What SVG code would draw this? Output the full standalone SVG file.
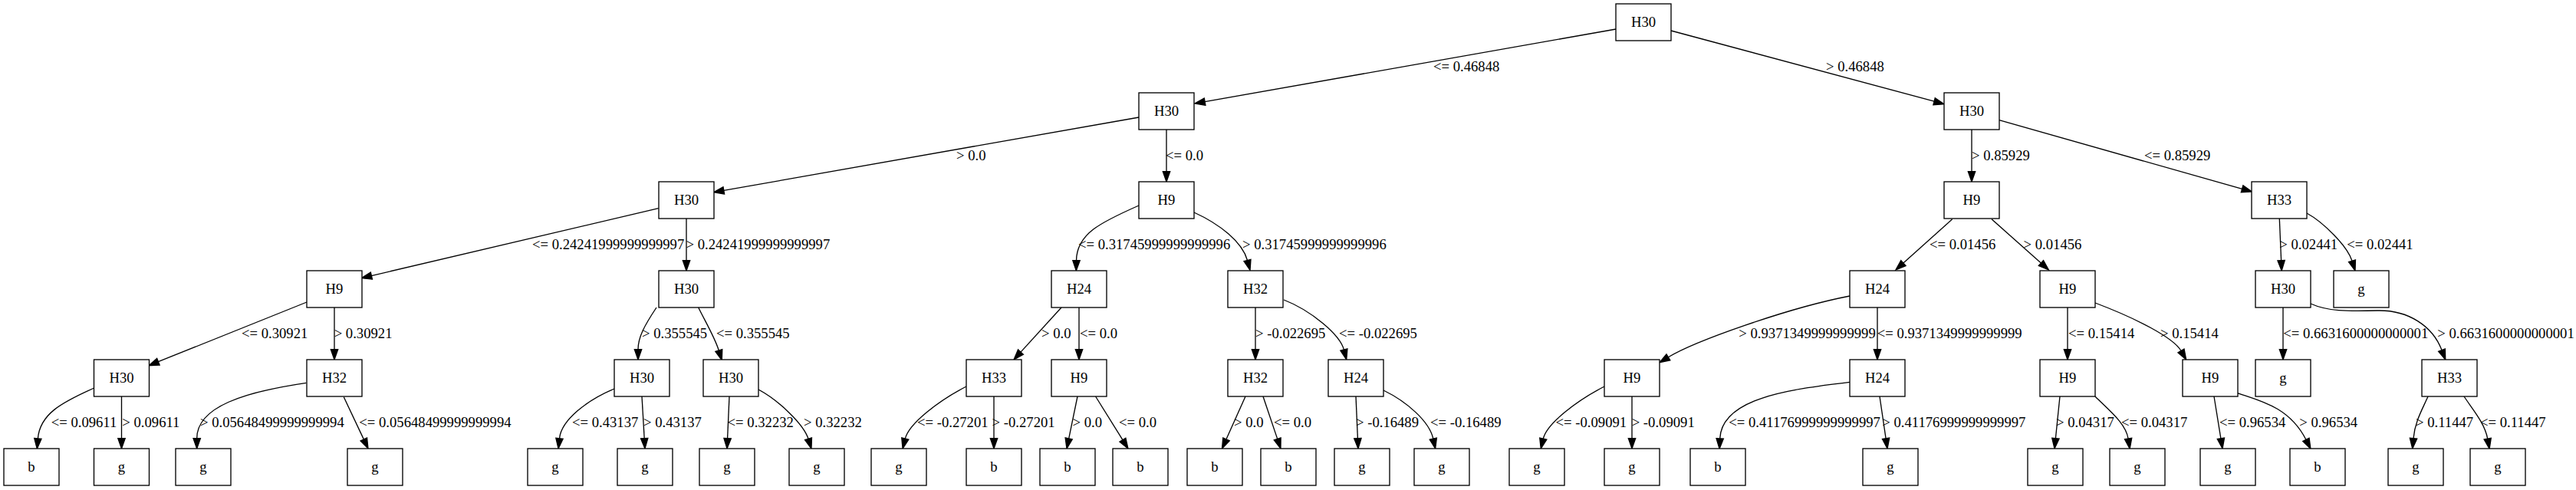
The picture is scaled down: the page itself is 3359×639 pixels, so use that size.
<svg xmlns="http://www.w3.org/2000/svg" width="3359" height="639" viewBox="0 0 3359 639">
<style>
.node rect{fill:#fff;stroke:#000;stroke-width:1.33}
.node text{text-anchor:middle}
text{font-family:"Liberation Serif","Times New Roman",serif;font-size:18.67px;fill:#000}
.edges path{fill:none;stroke:#000;stroke-width:1.33;marker-end:url(#ah)}
</style>
<defs>
<marker id="ah" markerUnits="userSpaceOnUse" markerWidth="13.33" markerHeight="9.33" viewBox="0 0 13.33 9.33" refX="0" refY="4.665" orient="auto" overflow="visible">
<path d="M0,0 L13.33,4.665 L0,9.33 z" fill="#000" stroke="#000" stroke-width="1.33"/>
</marker>
</defs>
<rect width="3359" height="639" fill="#fff"/>
<g class="edges">
<path d="M2107,38 L1571.1,132.7"/>
<path d="M2179,40 L2522.1,132.2"/>
<path d="M1485,153 L943.8,248.4"/>
<path d="M1521,169 L1521,223.7"/>
<path d="M2571,169 L2571,223.7"/>
<path d="M2607,156.7 L2923.6,246.4"/>
<path d="M858.6,271.7 L484.4,359.6"/>
<path d="M895,285 L895,339.7"/>
<path d="M1485,268 C1435,290 1404,305 1403.5,339.7"/>
<path d="M1557,277 C1590,292 1619.9,315.4 1626.5,339.5"/>
<path d="M2545.7,285.7 L2481.9,343.1"/>
<path d="M2597,285.7 L2661.4,343.1"/>
<path d="M2972.3,285 L2974.6,339.7"/>
<path d="M3008,278 C3030,290 3061,321.3 3067,340.3"/>
<path d="M400,394 L206.4,471.7"/>
<path d="M436,401 L436,455.7"/>
<path d="M856,401 C840,425 832,440 832,455.7"/>
<path d="M910.7,401 C920,420 932,440 937.3,457"/>
<path d="M1384,401 L1331,459.1"/>
<path d="M1407,401 L1407,455.7"/>
<path d="M1637,401 L1637,455.7"/>
<path d="M1674,391 C1710,405 1747.4,436.7 1752.4,456.1"/>
<path d="M2412,386 C2330,402 2209.6,445.1 2175.4,465.8"/>
<path d="M2448,401 L2448,455.7"/>
<path d="M2696,401 L2696,455.7"/>
<path d="M2732,395 C2785,415 2834,440.2 2844,457.5"/>
<path d="M2977,401 L2977,455.7"/>
<path d="M3013,396 C3035,406 3060,406 3100,405 C3140,404 3172,425 3184,456.6"/>
<path d="M122.7,506 C80,525 52,540 49.4,571.9"/>
<path d="M158.5,517 L158.5,571.7"/>
<path d="M399.3,499.3 C320,511 256.7,530 256.7,571.7"/>
<path d="M448.3,517.7 L474.3,572.9"/>
<path d="M801,507 C765,522 732,548 729.5,571.7"/>
<path d="M837,517 L840.2,571.7"/>
<path d="M951,517 L948.6,571.7"/>
<path d="M989,508 C1015,522 1048,553 1054,572.3"/>
<path d="M1260,504 C1225,522 1185.3,552 1180.3,572.1"/>
<path d="M1296,517 L1296,571.7"/>
<path d="M1405,517 L1393.7,571.9"/>
<path d="M1428.6,517 L1463.9,573.7"/>
<path d="M1624,517 L1599,572.8"/>
<path d="M1647,517 L1665.7,572.4"/>
<path d="M1768,517 L1770.4,571.7"/>
<path d="M1804,509 C1835,524 1864,550 1868.8,572.1"/>
<path d="M2092,504 C2057,522 2017,552 2012.3,572.1"/>
<path d="M2128,517 L2128,571.7"/>
<path d="M2412,498.3 C2330,508 2245,520 2242.7,571.9"/>
<path d="M2451,517 L2459.1,571.8"/>
<path d="M2686,517 L2680.4,571.7"/>
<path d="M2732,517 C2750,535 2772,552 2775.1,572"/>
<path d="M2887,517 L2895.9,571.8"/>
<path d="M2917,512.3 C2945,522 2985,530 3006.9,573.3"/>
<path d="M3166,517 C3158,535 3149,550 3147,571.7"/>
<path d="M3213,517 C3225,535 3240,552 3243.7,572.1"/>
</g>
<g class="labels">
<text x="1869" y="92.7">&lt;= 0.46848</text>
<text x="2381" y="92.7">&gt; 0.46848</text>
<text x="1247" y="208.7">&gt; 0.0</text>
<text x="1520" y="208.7">&lt;= 0.0</text>
<text x="2571" y="208.7">&gt; 0.85929</text>
<text x="2796" y="208.7">&lt;= 0.85929</text>
<text x="694" y="324.7">&lt;= 0.24241999999999997</text>
<text x="894.5" y="324.7">&gt; 0.24241999999999997</text>
<text x="1406" y="324.7">&lt;= 0.31745999999999996</text>
<text x="1620" y="324.7">&gt; 0.31745999999999996</text>
<text x="2516" y="324.7">&lt;= 0.01456</text>
<text x="2638.6" y="324.7">&gt; 0.01456</text>
<text x="2972.3" y="324.7">&gt; 0.02441</text>
<text x="3060.3" y="324.7">&lt;= 0.02441</text>
<text x="315" y="440.7">&lt;= 0.30921</text>
<text x="435.7" y="440.7">&gt; 0.30921</text>
<text x="837" y="440.7">&gt; 0.355545</text>
<text x="934" y="440.7">&lt;= 0.355545</text>
<text x="1358" y="440.7">&gt; 0.0</text>
<text x="1408" y="440.7">&lt;= 0.0</text>
<text x="1637" y="440.7">&gt; -0.022695</text>
<text x="1746" y="440.7">&lt;= -0.022695</text>
<text x="2267.3" y="440.7">&gt; 0.9371349999999999</text>
<text x="2447.7" y="440.7">&lt;= 0.9371349999999999</text>
<text x="2697" y="440.7">&lt;= 0.15414</text>
<text x="2817" y="440.7">&gt; 0.15414</text>
<text x="2977.3" y="440.7">&lt;= 0.6631600000000001</text>
<text x="3178.3" y="440.7">&gt; 0.6631600000000001</text>
<text x="66.7" y="556.7">&lt;= 0.09611</text>
<text x="159.3" y="556.7">&gt; 0.09611</text>
<text x="261" y="556.7">&gt; 0.05648499999999994</text>
<text x="468.3" y="556.7">&lt;= 0.05648499999999994</text>
<text x="746" y="556.7">&lt;= 0.43137</text>
<text x="839" y="556.7">&gt; 0.43137</text>
<text x="948.6" y="556.7">&lt;= 0.32232</text>
<text x="1048" y="556.7">&gt; 0.32232</text>
<text x="1196" y="556.7">&lt;= -0.27201</text>
<text x="1293.6" y="556.7">&gt; -0.27201</text>
<text x="1398.6" y="556.7">&gt; 0.0</text>
<text x="1459" y="556.7">&lt;= 0.0</text>
<text x="1609" y="556.7">&gt; 0.0</text>
<text x="1661" y="556.7">&lt;= 0.0</text>
<text x="1768" y="556.7">&gt; -0.16489</text>
<text x="1865" y="556.7">&lt;= -0.16489</text>
<text x="2028.6" y="556.7">&lt;= -0.09091</text>
<text x="2127.7" y="556.7">&gt; -0.09091</text>
<text x="2254.3" y="556.7">&lt;= 0.41176999999999997</text>
<text x="2454.3" y="556.7">&gt; 0.41176999999999997</text>
<text x="2681" y="556.7">&gt; 0.04317</text>
<text x="2766" y="556.7">&lt;= 0.04317</text>
<text x="2894" y="556.7">&lt;= 0.96534</text>
<text x="2998.3" y="556.7">&gt; 0.96534</text>
<text x="3150" y="556.7">&gt; 0.11447</text>
<text x="3234" y="556.7">&lt;= 0.11447</text>
</g>
<g id="n0" class="node"><rect x="2107" y="5" width="72" height="48"/><text x="2143" y="34.6">H30</text></g>
<g id="n1" class="node"><rect x="1485" y="121" width="72" height="48"/><text x="1521" y="150.6">H30</text></g>
<g id="n2" class="node"><rect x="2535" y="121" width="72" height="48"/><text x="2571" y="150.6">H30</text></g>
<g id="n3" class="node"><rect x="859" y="237" width="72" height="48"/><text x="895" y="266.6">H30</text></g>
<g id="n4" class="node"><rect x="1485" y="237" width="72" height="48"/><text x="1521" y="266.6">H9</text></g>
<g id="n5" class="node"><rect x="2535" y="237" width="72" height="48"/><text x="2571" y="266.6">H9</text></g>
<g id="n6" class="node"><rect x="2936" y="237" width="72" height="48"/><text x="2972" y="266.6">H33</text></g>
<g id="n7" class="node"><rect x="400" y="353" width="72" height="48"/><text x="436" y="382.6">H9</text></g>
<g id="n8" class="node"><rect x="859" y="353" width="72" height="48"/><text x="895" y="382.6">H30</text></g>
<g id="n9" class="node"><rect x="1371" y="353" width="72" height="48"/><text x="1407" y="382.6">H24</text></g>
<g id="n10" class="node"><rect x="1601" y="353" width="72" height="48"/><text x="1637" y="382.6">H32</text></g>
<g id="n11" class="node"><rect x="2412" y="353" width="72" height="48"/><text x="2448" y="382.6">H24</text></g>
<g id="n12" class="node"><rect x="2660" y="353" width="72" height="48"/><text x="2696" y="382.6">H9</text></g>
<g id="n13" class="node"><rect x="2941" y="353" width="72" height="48"/><text x="2977" y="382.6">H30</text></g>
<g id="n14" class="node"><rect x="3043" y="353" width="72" height="48"/><text x="3079" y="382.6">g</text></g>
<g id="n15" class="node"><rect x="122.5" y="469" width="72" height="48"/><text x="158.5" y="498.6">H30</text></g>
<g id="n16" class="node"><rect x="400" y="469" width="72" height="48"/><text x="436" y="498.6">H32</text></g>
<g id="n17" class="node"><rect x="801" y="469" width="72" height="48"/><text x="837" y="498.6">H30</text></g>
<g id="n18" class="node"><rect x="917" y="469" width="72" height="48"/><text x="953" y="498.6">H30</text></g>
<g id="n19" class="node"><rect x="1260" y="469" width="72" height="48"/><text x="1296" y="498.6">H33</text></g>
<g id="n20" class="node"><rect x="1371" y="469" width="72" height="48"/><text x="1407" y="498.6">H9</text></g>
<g id="n21" class="node"><rect x="1601" y="469" width="72" height="48"/><text x="1637" y="498.6">H32</text></g>
<g id="n22" class="node"><rect x="1732" y="469" width="72" height="48"/><text x="1768" y="498.6">H24</text></g>
<g id="n23" class="node"><rect x="2092" y="469" width="72" height="48"/><text x="2128" y="498.6">H9</text></g>
<g id="n24" class="node"><rect x="2412" y="469" width="72" height="48"/><text x="2448" y="498.6">H24</text></g>
<g id="n25" class="node"><rect x="2660" y="469" width="72" height="48"/><text x="2696" y="498.6">H9</text></g>
<g id="n26" class="node"><rect x="2846" y="469" width="72" height="48"/><text x="2882" y="498.6">H9</text></g>
<g id="n27" class="node"><rect x="2941" y="469" width="72" height="48"/><text x="2977" y="498.6">g</text></g>
<g id="n28" class="node"><rect x="3158" y="469" width="72" height="48"/><text x="3194" y="498.6">H33</text></g>
<g id="n29" class="node"><rect x="5" y="585" width="72" height="48"/><text x="41" y="614.6">b</text></g>
<g id="n30" class="node"><rect x="122.5" y="585" width="72" height="48"/><text x="158.5" y="614.6">g</text></g>
<g id="n31" class="node"><rect x="229" y="585" width="72" height="48"/><text x="265" y="614.6">g</text></g>
<g id="n32" class="node"><rect x="453" y="585" width="72" height="48"/><text x="489" y="614.6">g</text></g>
<g id="n33" class="node"><rect x="688" y="585" width="72" height="48"/><text x="724" y="614.6">g</text></g>
<g id="n34" class="node"><rect x="805" y="585" width="72" height="48"/><text x="841" y="614.6">g</text></g>
<g id="n35" class="node"><rect x="912" y="585" width="72" height="48"/><text x="948" y="614.6">g</text></g>
<g id="n36" class="node"><rect x="1029" y="585" width="72" height="48"/><text x="1065" y="614.6">g</text></g>
<g id="n37" class="node"><rect x="1136" y="585" width="72" height="48"/><text x="1172" y="614.6">g</text></g>
<g id="n38" class="node"><rect x="1260" y="585" width="72" height="48"/><text x="1296" y="614.6">b</text></g>
<g id="n39" class="node"><rect x="1356" y="585" width="72" height="48"/><text x="1392" y="614.6">b</text></g>
<g id="n40" class="node"><rect x="1451" y="585" width="72" height="48"/><text x="1487" y="614.6">b</text></g>
<g id="n41" class="node"><rect x="1548" y="585" width="72" height="48"/><text x="1584" y="614.6">b</text></g>
<g id="n42" class="node"><rect x="1644" y="585" width="72" height="48"/><text x="1680" y="614.6">b</text></g>
<g id="n43" class="node"><rect x="1740" y="585" width="72" height="48"/><text x="1776" y="614.6">g</text></g>
<g id="n44" class="node"><rect x="1844" y="585" width="72" height="48"/><text x="1880" y="614.6">g</text></g>
<g id="n45" class="node"><rect x="1968" y="585" width="72" height="48"/><text x="2004" y="614.6">g</text></g>
<g id="n46" class="node"><rect x="2092" y="585" width="72" height="48"/><text x="2128" y="614.6">g</text></g>
<g id="n47" class="node"><rect x="2204" y="585" width="72" height="48"/><text x="2240" y="614.6">b</text></g>
<g id="n48" class="node"><rect x="2429" y="585" width="72" height="48"/><text x="2465" y="614.6">g</text></g>
<g id="n49" class="node"><rect x="2644" y="585" width="72" height="48"/><text x="2680" y="614.6">g</text></g>
<g id="n50" class="node"><rect x="2751" y="585" width="72" height="48"/><text x="2787" y="614.6">g</text></g>
<g id="n51" class="node"><rect x="2869" y="585" width="72" height="48"/><text x="2905" y="614.6">g</text></g>
<g id="n52" class="node"><rect x="2986" y="585" width="72" height="48"/><text x="3022" y="614.6">b</text></g>
<g id="n53" class="node"><rect x="3114" y="585" width="72" height="48"/><text x="3150" y="614.6">g</text></g>
<g id="n54" class="node"><rect x="3221" y="585" width="72" height="48"/><text x="3257" y="614.6">g</text></g>
</svg>
